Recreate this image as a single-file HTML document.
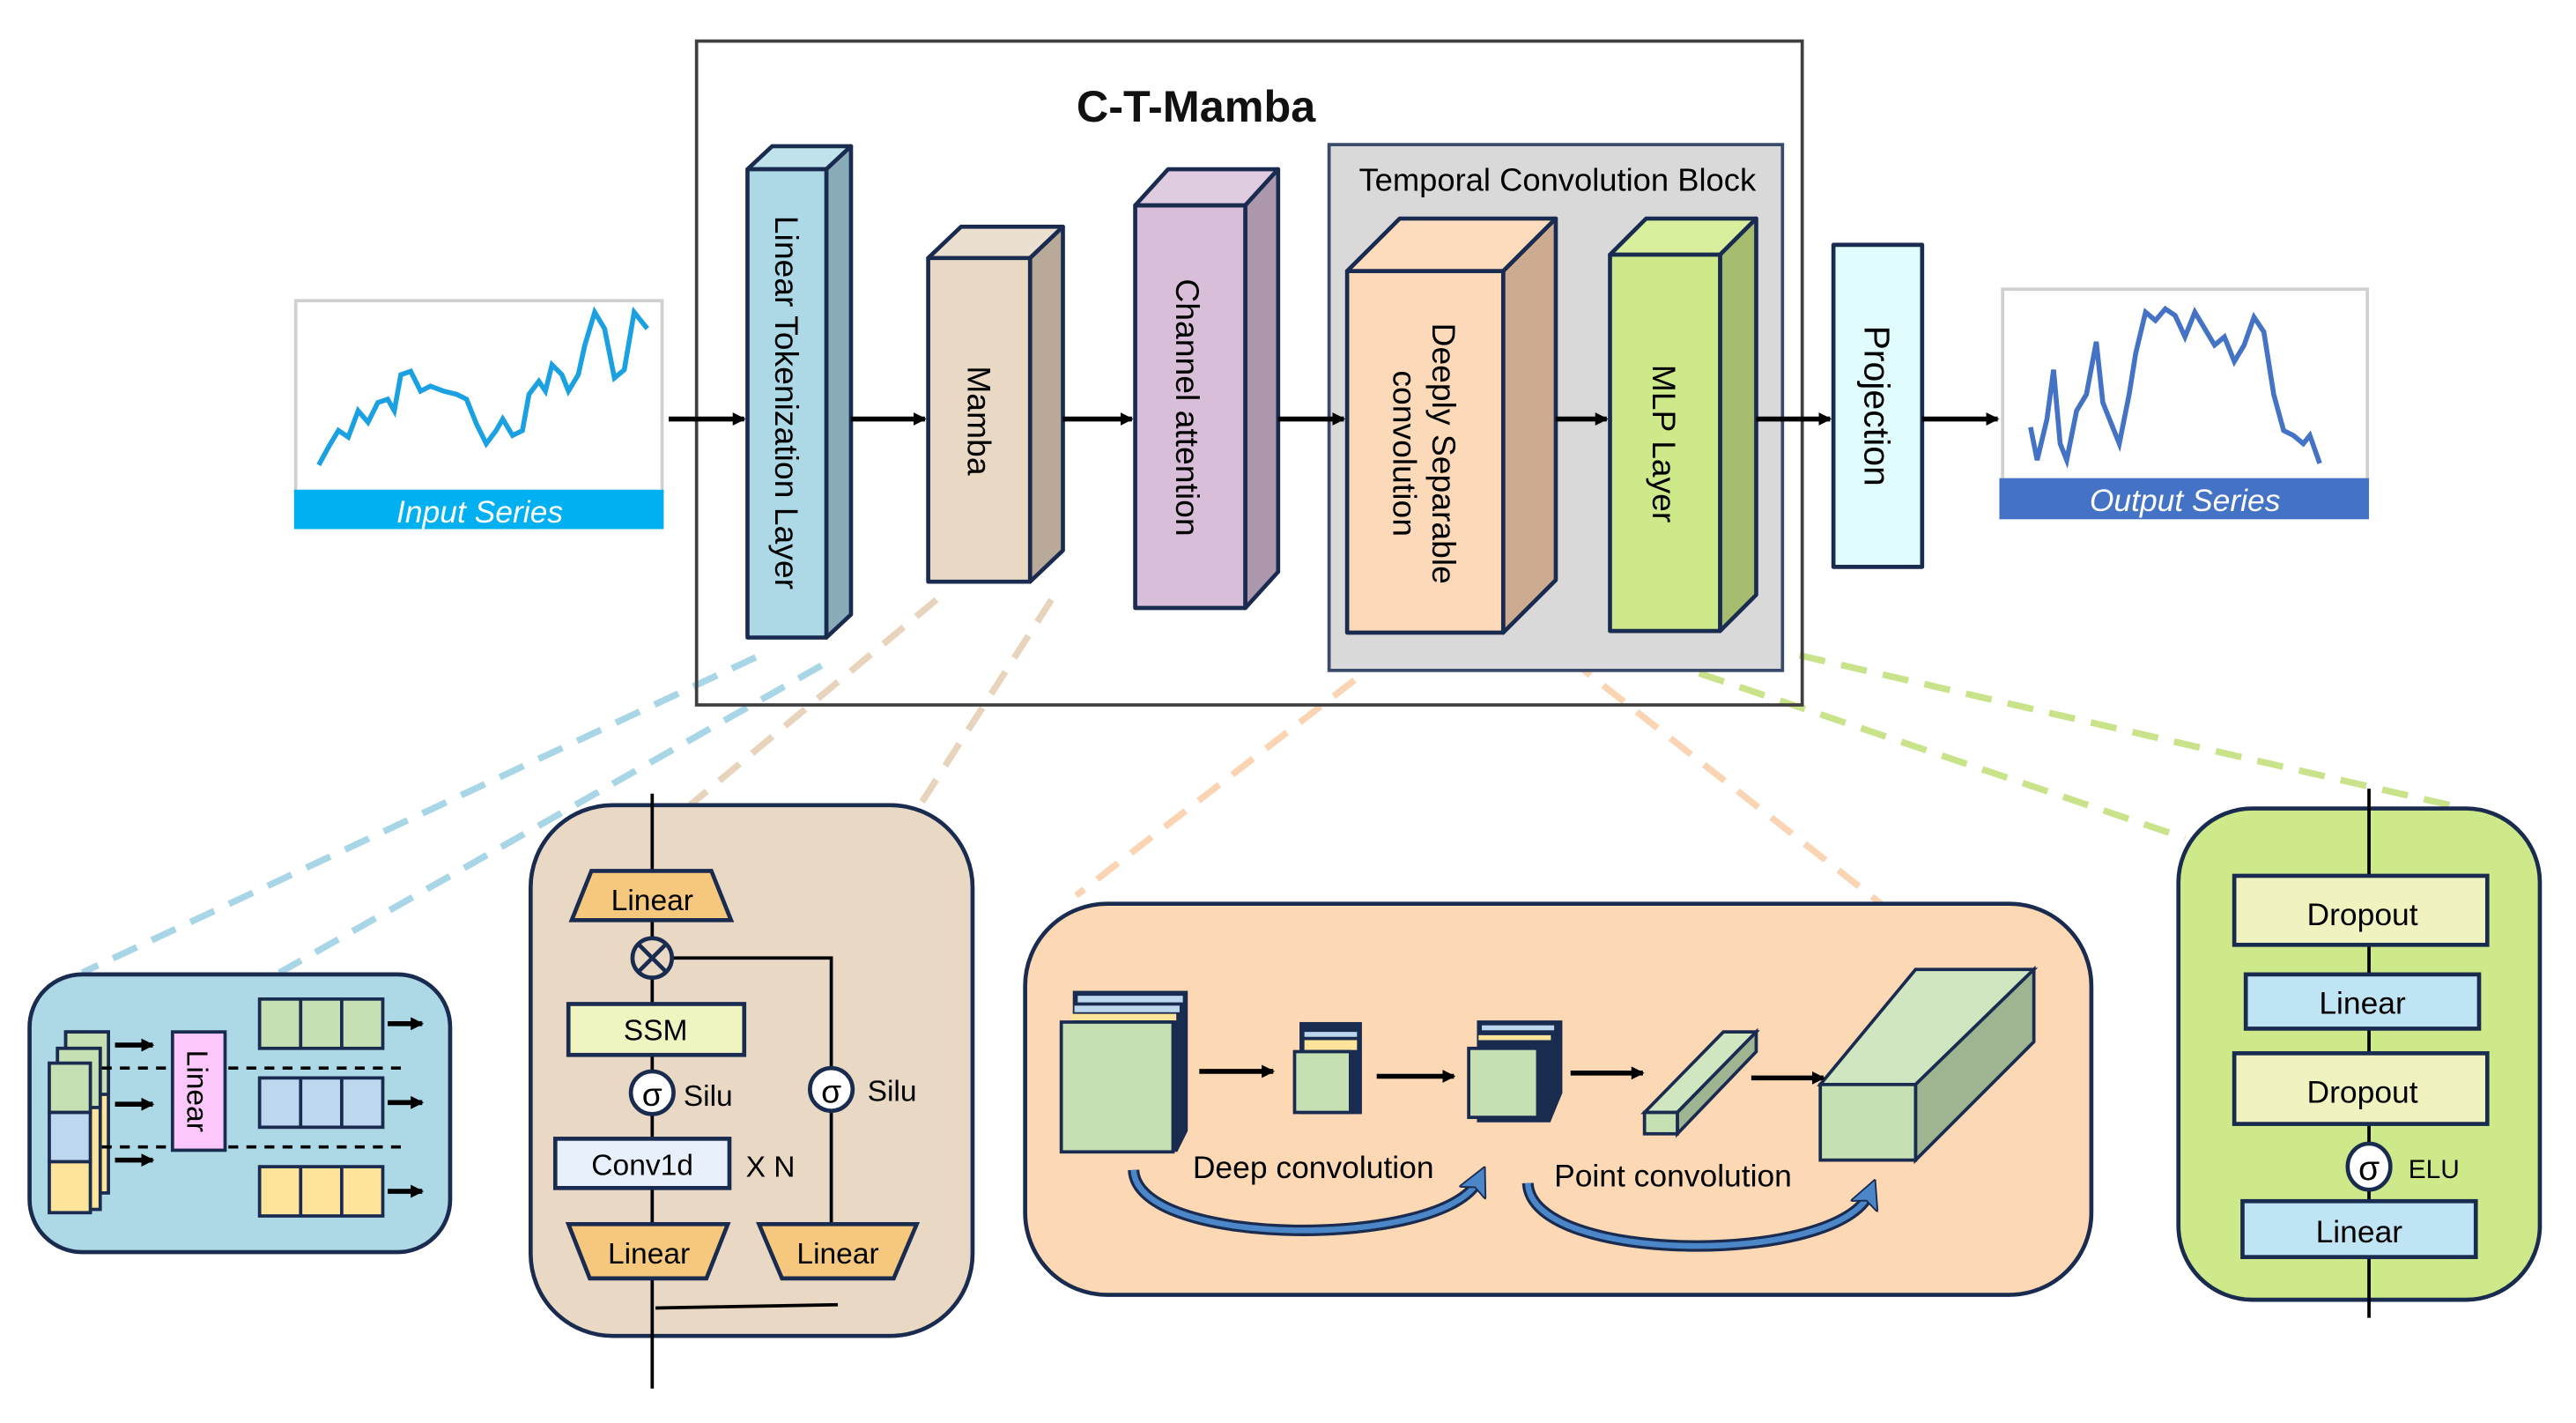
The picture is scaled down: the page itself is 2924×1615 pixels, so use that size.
<!DOCTYPE html>
<html><head><meta charset="utf-8"><style>
html,body{margin:0;padding:0;background:#fff;}
svg{display:block;}
text{font-family:"Liberation Sans",sans-serif;}
</style></head><body>
<svg width="2924" height="1615" viewBox="0 0 1568 866" preserveAspectRatio="none" xmlns="http://www.w3.org/2000/svg">
<defs>
<marker id="ah" markerWidth="8" markerHeight="8" refX="7" refY="4" orient="auto" markerUnits="userSpaceOnUse"><path d="M0,0 L8,4 L0,8 z" fill="#000"/></marker>
<marker id="ab" markerWidth="18" markerHeight="18" refX="9" refY="9" orient="auto" markerUnits="userSpaceOnUse"><path d="M0,0 L18,9 L0,18 L4,9 z" fill="#4a86c8" stroke="#1a2b50" stroke-width="1"/></marker>
</defs>

<g fill="none" stroke-width="4" stroke-dasharray="16,10">
<line x1="460" y1="400" x2="50" y2="592" stroke="#a8d6e6"/>
<line x1="500" y1="405" x2="170" y2="592" stroke="#a8d6e6"/>
<line x1="570" y1="365" x2="420" y2="490" stroke="#e8d4bc"/>
<line x1="640" y1="365" x2="560" y2="490" stroke="#e8d4bc"/>
<line x1="845" y1="398" x2="655" y2="545" stroke="#fbd5b3"/>
<line x1="935" y1="385" x2="1145" y2="550" stroke="#fbd5b3"/>
<line x1="985" y1="393" x2="1330" y2="510" stroke="#c9e38a"/>
<line x1="1070" y1="393" x2="1500" y2="492" stroke="#c9e38a"/>
</g>

<rect x="424" y="25" width="673" height="404" fill="none" stroke="#404040" stroke-width="2"/>
<text x="728" y="74" font-size="27" font-weight="bold" text-anchor="middle" fill="#111">C-T-Mamba</text>

<rect x="809" y="88" width="276" height="320" fill="#d9d9d9" stroke="#3a4a6a" stroke-width="2"/>
<text x="948" y="116" font-size="19.5" text-anchor="middle" fill="#000">Temporal Convolution Block</text>

<g stroke="#1a2b50" stroke-width="2.5" stroke-linejoin="round">
<polygon points="455,103 470,89 518,89 503,103" fill="#c0e2ea"/>
<polygon points="503,103 518,89 518,374 503,388" fill="#8aabb8"/>
<rect x="455" y="103" width="48" height="285" fill="#add8e6"/>
<polygon points="565,157 585,138 647,138 627,157" fill="#ebdfcf"/>
<polygon points="627,157 647,138 647,335 627,354" fill="#b9a998"/>
<rect x="565" y="157" width="62" height="197" fill="#e8d8c4"/>
<polygon points="691,125 711,103 778,103 758,125" fill="#e0cce0"/>
<polygon points="758,125 778,103 778,348 758,370" fill="#ad97ad"/>
<rect x="691" y="125" width="67" height="245" fill="#d8bed8"/>
<polygon points="820,165 852,133 947,133 915,165" fill="#fcdcbc"/>
<polygon points="915,165 947,133 947,353 915,385" fill="#cdab90"/>
<rect x="820" y="165" width="95" height="220" fill="#fcd9b8"/>
<polygon points="980,155 1002,133 1069,133 1047,155" fill="#d8ef9e"/>
<polygon points="1047,155 1069,133 1069,362 1047,384" fill="#a6bd70"/>
<rect x="980" y="155" width="67" height="229" fill="#cde98a"/>
<rect x="1116" y="149" width="54" height="196" fill="#e0fcfc"/>
</g>

<g font-size="20" fill="#000">
<text transform="translate(472,245) rotate(90)" text-anchor="middle">Linear Tokenization Layer</text>
<text transform="translate(589,256) rotate(90)" text-anchor="middle">Mamba</text>
<text transform="translate(716,248) rotate(90)" text-anchor="middle">Channel attention</text>
<text transform="translate(872,276) rotate(90)" text-anchor="middle">Deeply Separable</text>
<text transform="translate(848,276) rotate(90)" text-anchor="middle">convolution</text>
<text transform="translate(1006,270) rotate(90)" text-anchor="middle">MLP Layer</text>
<text transform="translate(1135,247) rotate(90)" text-anchor="middle" font-size="22">Projection</text>
</g>

<g stroke="#000" stroke-width="3" marker-end="url(#ah)">
<line x1="407" y1="255" x2="453" y2="255"/>
<line x1="518" y1="255" x2="563" y2="255"/>
<line x1="647" y1="255" x2="689" y2="255"/>
<line x1="778" y1="255" x2="818" y2="255"/>
<line x1="947" y1="255" x2="978" y2="255"/>
<line x1="1069" y1="255" x2="1114" y2="255"/>
<line x1="1170" y1="255" x2="1216" y2="255"/>
</g>

<rect x="180" y="183" width="223" height="117" fill="#fff" stroke="#d0d0d0" stroke-width="2"/>
<polyline fill="none" stroke="#1ba1e2" stroke-width="3" points="194,283 200,272 206,262 212,266 218,250 224,257 230,245 236,243 240,250 244,228 250,226 256,238 262,235 270,238 278,240 284,243 290,258 296,270 302,262 306,255 312,265 318,262 322,240 328,232 332,238 336,222 342,228 346,238 352,228 356,210 362,190 368,200 374,230 380,225 386,190 394,200"/>
<rect x="179" y="298" width="225" height="24" fill="#00b0f0"/>
<text x="292" y="318" font-size="19" font-style="italic" fill="#fff" text-anchor="middle">Input Series</text>

<rect x="1219" y="176" width="222" height="116" fill="#fff" stroke="#d0d0d0" stroke-width="2"/>
<polyline fill="none" stroke="#4472c4" stroke-width="3" points="1236,260 1240,280 1246,255 1250,225 1254,270 1258,280 1264,250 1270,240 1276,208 1280,245 1284,255 1290,270 1296,240 1300,215 1306,190 1312,195 1318,188 1324,192 1330,205 1336,190 1342,200 1348,210 1354,205 1360,220 1366,210 1372,193 1378,202 1384,240 1390,262 1396,265 1402,270 1406,265 1412,282"/>
<rect x="1217" y="291" width="225" height="25" fill="#4472c4"/>
<text x="1330" y="311" font-size="19" font-style="italic" fill="#fff" text-anchor="middle">Output Series</text>

<g stroke="#1a2b50" stroke-width="2.5">
<rect x="18" y="593" width="256" height="169" rx="32" fill="#add8e6"/>
<rect x="323" y="490" width="269" height="323" rx="50" fill="#e8d8c4"/>
<rect x="624" y="550" width="649" height="238" rx="50" fill="#fcd8b4"/>
<rect x="1326" y="492" width="220" height="299" rx="45" fill="#cde98a"/>
</g>

<g stroke="#1a2b50" stroke-width="2">
<rect x="40" y="628" width="26" height="98" fill="#fde49a"/>
<rect x="40" y="628" width="26" height="38" fill="#c6e0b4"/>
<rect x="35" y="638" width="26" height="98" fill="#fde49a"/>
<rect x="35" y="638" width="26" height="36" fill="#c6e0b4"/>
<rect x="30" y="647" width="25" height="30" fill="#c6e0b4"/>
<rect x="30" y="677" width="25" height="30" fill="#bdd7ee"/>
<rect x="30" y="707" width="25" height="31" fill="#fde49a"/>
</g>
<g stroke="#000" stroke-width="2" stroke-dasharray="6,5">
<line x1="62" y1="650" x2="248" y2="650"/>
<line x1="62" y1="698" x2="248" y2="698"/>
</g>
<g stroke="#1a2b50" stroke-width="2">
<rect x="105" y="628" width="32" height="72" fill="#fcc8fc"/>
<rect x="158" y="608" width="75" height="30" fill="#c6e0b4"/>
<line x1="183" y1="608" x2="183" y2="638"/><line x1="208" y1="608" x2="208" y2="638"/>
<rect x="158" y="656" width="75" height="30" fill="#bdd7ee"/>
<line x1="183" y1="656" x2="183" y2="686"/><line x1="208" y1="656" x2="208" y2="686"/>
<rect x="158" y="710" width="75" height="30" fill="#fde49a"/>
<line x1="183" y1="710" x2="183" y2="740"/><line x1="208" y1="710" x2="208" y2="740"/>
</g>
<text transform="translate(114,664) rotate(90)" font-size="18" text-anchor="middle">Linear</text>
<g stroke="#000" stroke-width="3" marker-end="url(#ah)">
<line x1="70" y1="636" x2="93" y2="636"/>
<line x1="70" y1="672" x2="93" y2="672"/>
<line x1="70" y1="706" x2="93" y2="706"/>
<line x1="236" y1="623" x2="257" y2="623"/>
<line x1="236" y1="671" x2="257" y2="671"/>
<line x1="236" y1="725" x2="257" y2="725"/>
</g>

<g stroke="#000" stroke-width="2" fill="none">
<line x1="397" y1="483" x2="397" y2="845"/>
<polyline points="409,583 506,583 506,745"/>
<line x1="399" y1="796" x2="510" y2="794"/>
</g>
<g stroke="#1a2b50" stroke-width="2.5">
<polygon points="360,530 433,530 445,560 348,560" fill="#f6c87e"/>
<circle cx="397" cy="583" r="12" fill="#e8d8c4"/>
<rect x="346" y="611" width="107" height="31" fill="#f0f4c0"/>
<circle cx="397" cy="665" r="13" fill="#fff"/>
<circle cx="506" cy="663" r="13" fill="#fff"/>
<rect x="338" y="693" width="106" height="30" fill="#e8f0fc"/>
<polygon points="346,745 443,745 430,778 359,778" fill="#f6c87e"/>
<polygon points="462,745 558,745 544,778 476,778" fill="#f6c87e"/>
</g>
<g stroke="#1a2b50" stroke-width="2.5"><line x1="389" y1="575" x2="405" y2="591"/><line x1="405" y1="575" x2="389" y2="591"/></g>
<g font-size="18" fill="#000" text-anchor="middle">
<text x="397" y="554">Linear</text>
<text x="399" y="633">SSM</text>
<text x="397" y="673" font-size="20">σ</text>
<text x="506" y="671" font-size="20">σ</text>
<text x="391" y="715">Conv1d</text>
<text x="395" y="769">Linear</text>
<text x="510" y="769">Linear</text>
</g>
<g font-size="18" fill="#000">
<text x="416" y="673">Silu</text>
<text x="528" y="670">Silu</text>
<text x="454" y="716">X N</text>
</g>

<g stroke="#1a2b50" stroke-width="2">
<polygon points="654,604 722,604 722,688 716,700 654,700" fill="#1a2b50"/>
<rect x="656" y="606" width="64" height="4" fill="#bdd7ee" stroke="none"/>
<rect x="654" y="612" width="64" height="4" fill="#bdd7ee" stroke="none"/>
<rect x="652" y="617" width="64" height="4" fill="#fde49a" stroke="none"/>
<rect x="646" y="622" width="68" height="79" fill="#c6e0b4"/>
<rect x="792" y="623" width="36" height="54" fill="#1a2b50"/>
<rect x="794" y="628" width="32" height="3" fill="#bdd7ee" stroke="none"/>
<rect x="794" y="633" width="32" height="6" fill="#fde49a" stroke="none"/>
<rect x="788" y="640" width="34" height="37" fill="#c6e0b4"/>
<polygon points="900,622 950,622 950,665 943,682 900,682" fill="#1a2b50"/>
<rect x="902" y="624" width="44" height="3" fill="#bdd7ee" stroke="none"/>
<rect x="900" y="630" width="44" height="3" fill="#fde49a" stroke="none"/>
<rect x="894" y="638" width="42" height="42" fill="#c6e0b4"/>
<polygon points="1001,677 1049,628 1069,628 1021,677" fill="#d0e6c0"/>
<polygon points="1021,677 1069,628 1069,640 1021,690" fill="#9fb592"/>
<rect x="1001" y="677" width="20" height="13" fill="#c6e0b4"/>
<polygon points="1108,660 1166,590 1238,590 1166,660" fill="#d0e6c0"/>
<polygon points="1166,660 1238,590 1238,634 1166,706" fill="#9fb592"/>
<rect x="1108" y="660" width="58" height="46" fill="#c6e0b4"/>
</g>
<g stroke="#000" stroke-width="3" marker-end="url(#ah)">
<line x1="730" y1="652" x2="775" y2="652"/>
<line x1="838" y1="655" x2="885" y2="655"/>
<line x1="956" y1="653" x2="1000" y2="653"/>
<line x1="1066" y1="656" x2="1110" y2="656"/>
</g>
<g fill="none" stroke="#1a2b50" stroke-width="7">
<path d="M690,712 C692,760 880,760 900,718"/>
<path d="M930,720 C932,770 1120,770 1138,726"/>
</g>
<g fill="none" stroke="#4a86c8" stroke-width="3.5">
<path d="M690,712 C692,760 880,760 900,718" marker-end="url(#ab)"/>
<path d="M930,720 C932,770 1120,770 1138,726" marker-end="url(#ab)"/>
</g>
<g font-size="19" fill="#000">
<text x="726" y="717">Deep convolution</text>
<text x="946" y="722">Point convolution</text>
</g>

<line x1="1442" y1="480" x2="1442" y2="802" stroke="#000" stroke-width="2"/>
<g stroke="#1a2b50" stroke-width="2.5">
<rect x="1360" y="533" width="154" height="42" fill="#f0f2c0"/>
<rect x="1367" y="593" width="142" height="33" fill="#bfe4f4"/>
<rect x="1360" y="641" width="154" height="43" fill="#f0f2c0"/>
<ellipse cx="1442" cy="710" rx="13" ry="14" fill="#fff"/>
<rect x="1365" y="731" width="142" height="34" fill="#bfe4f4"/>
</g>
<g font-size="19" fill="#000" text-anchor="middle">
<text x="1438" y="563">Dropout</text>
<text x="1438" y="617">Linear</text>
<text x="1438" y="671">Dropout</text>
<text x="1442" y="718" font-size="21">σ</text>
<text x="1436" y="756">Linear</text>
</g>
<text x="1466" y="717" font-size="16" fill="#000">ELU</text>
</svg>
</body></html>
